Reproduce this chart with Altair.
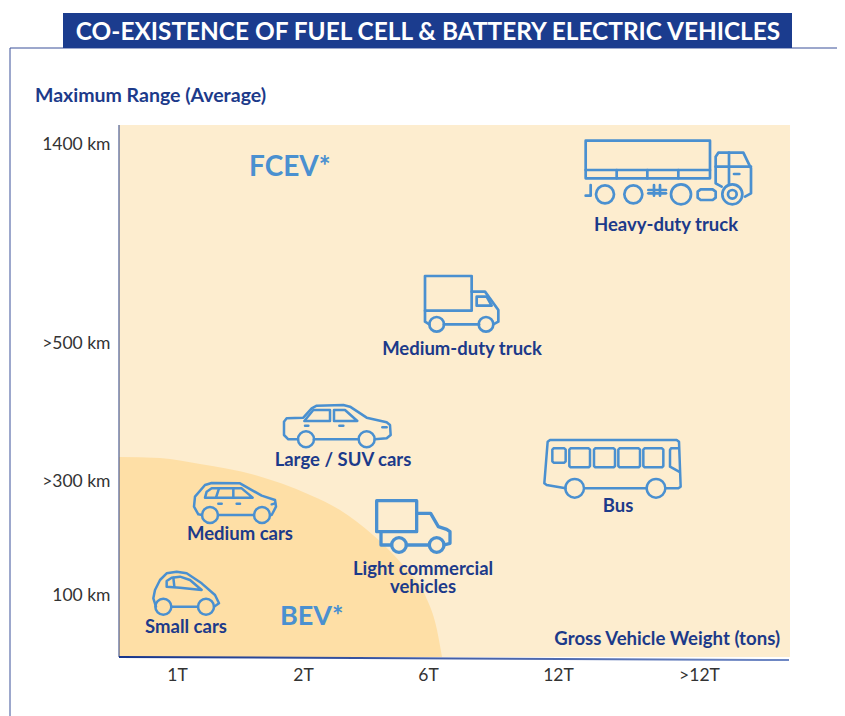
import altair as alt
import pandas as pd

# ---------- text and tick values ----------
TITLE = "CO-EXISTENCE OF FUEL CELL & BATTERY ELECTRIC VEHICLES"
Y_POS = [144, 343, 481, 595]
Y_LABELS = ["1400 km", ">500 km", ">300 km", "100 km"]
X_POS = [177, 303, 428, 558, 699]
X_LABELS = ["1T", "2T", "6T", "12T", ">12T"]

# ---------- regions ----------
BEV_X = [119, 160, 200, 255, 310, 340, 373, 407, 425, 437, 442]
BEV_Y = [457, 458, 464, 475, 495, 510, 535, 570, 595, 630, 657]

# ---------- vehicle labels ----------
LABEL_TEXT = ["Heavy-duty truck", "Medium-duty truck", "Large / SUV cars", "Medium cars",
              "Small cars", "Bus", "Light commercial\nvehicles"]
LABEL_X = [666, 462, 343, 240, 186, 618, 423]
LABEL_Y = [225, 349, 460, 534, 627, 506, 569]

# ---------- vehicle outlines: origin, strokes, wheels (x, y, radius in 1/3 px) ----------
HEAVY = dict(o=(570, 125), w=2.7, lines=[
    [(47, 47), (420, 47), (420, 160), (47, 160), (47, 47)],
    [(47, 135), (420, 135)],
    [(140, 135), (140, 160)], [(232, 135), (232, 160)], [(325, 135), (325, 160)],
    [(455, 185), (437, 175), (437, 95), (445, 83), (520, 83), (543, 130), (543, 205), (525, 215)],
    [(477, 83), (477, 180)], [(437, 125), (543, 125)], [(492, 147), (508, 147)],
    [(62, 180), (62, 212), (47, 212)],
    [(235, 195), (288, 195)], [(235, 205), (288, 205)], [(252, 180), (252, 212)], [(270, 180), (270, 212)],
    [(392, 193), (428, 193), (437, 200), (437, 218), (428, 225), (392, 225), (383, 218), (383, 200), (392, 193)],
], wheels=[(105, 208, 27), (190, 208, 27), (333, 208, 30), (487, 208, 30), (487, 208, 13)])

MEDIUM_TRUCK = dict(o=(370, 265), w=2.7, lines=[
    [(165, 33), (305, 33), (305, 137), (165, 137), (165, 33)],
    [(165, 137), (165, 170), (178, 178)],
    [(222, 178), (327, 178)],
    [(370, 178), (385, 170), (385, 135), (345, 80), (305, 80)],
    [(320, 95), (350, 95), (365, 122), (320, 122), (320, 95)],
], wheels=[(200, 178, 22), (348, 178, 22)])

LARGE_CAR = dict(o=(270, 395), w=2.5, lines=[
    [(84, 133), (55, 133), (42, 120), (42, 80), (50, 70), (100, 68), (125, 40), (140, 32), (220, 30),
     (240, 35), (290, 68), (350, 82), (360, 90), (362, 120), (350, 130), (314, 133)],
    [(132, 133), (266, 133)],
    [(103, 78), (130, 45), (180, 45), (180, 78), (103, 78)],
    [(192, 45), (225, 45), (262, 78), (192, 78), (192, 45)],
    [(105, 92), (115, 92)], [(208, 92), (220, 92)], [(337, 97), (350, 97)],
], wheels=[(108, 133, 24), (290, 133, 24)])

BUS = dict(o=(535, 430), w=2.5, lines=[
    [(92, 175), (35, 165), (28, 160), (38, 35), (45, 30), (425, 30), (432, 35), (437, 170), (430, 175), (392, 175)],
    [(148, 175), (335, 175)],
    [(56, 55), (88, 55), (92, 59), (92, 94), (88, 98), (56, 98), (52, 94), (52, 59), (56, 55)],
    [(107, 55), (161, 55), (165, 59), (165, 108), (161, 112), (107, 112), (103, 108), (103, 59), (107, 55)],
    [(181, 55), (236, 55), (240, 59), (240, 108), (236, 112), (181, 112), (177, 108), (177, 59), (181, 55)],
    [(254, 55), (311, 55), (315, 59), (315, 108), (311, 112), (254, 112), (250, 108), (250, 59), (254, 55)],
    [(329, 55), (381, 55), (385, 59), (385, 108), (381, 112), (329, 112), (325, 108), (325, 59), (329, 55)],
    [(430, 55), (408, 55), (405, 60), (405, 110), (432, 125)],
], wheels=[(119, 175, 28), (363, 175, 28)])

LIGHT_TRUCK = dict(o=(340, 490), w=3.3, lines=[
    [(110, 32), (230, 32), (230, 125), (110, 125), (110, 32)],
    [(123, 125), (123, 165), (155, 165)],
    [(199, 165), (268, 165)],
    [(312, 165), (330, 160), (330, 125), (320, 118), (295, 110), (272, 70), (232, 70)],
], wheels=[(177, 165, 22), (290, 165, 22)])

MEDIUM_CAR = dict(o=(130, 475), w=2.5, lines=[
    [(216, 120), (205, 118), (192, 95), (195, 65), (225, 30), (245, 24), (330, 25), (395, 62), (435, 75),
     (438, 95), (425, 120), (420, 120)],
    [(264, 120), (372, 120)],
    [(225, 68), (230, 50), (245, 40), (335, 40), (368, 68), (225, 68)],
    [(258, 68), (267, 40)], [(310, 40), (310, 68)],
    [(265, 86), (275, 86)], [(320, 86), (330, 86)], [(425, 88), (435, 85)],
], wheels=[(240, 120, 24), (396, 120, 24)])

SMALL_CAR = dict(o=(130, 475), w=2.5, lines=[
    [(78, 395), (70, 370), (75, 345), (90, 315), (110, 295), (140, 290), (170, 295), (215, 325), (255, 360),
     (267, 385), (252, 395)],
    [(124, 395), (204, 395)],
    [(110, 335), (110, 318), (125, 308), (150, 305), (180, 315), (215, 345), (150, 338), (110, 335)],
    [(130, 308), (133, 335)],
], wheels=[(100, 395, 24), (228, 395, 24)])

VEHICLES = [HEAVY, MEDIUM_TRUCK, LARGE_CAR, BUS, LIGHT_TRUCK, MEDIUM_CAR, SMALL_CAR]

# ---------- colours ----------
NAVY = "#1B3C8E"
DARK = "#1C3A8A"
ICON = "#4A90D0"
CREAM = "#FDEDCF"
BEV = "#FEDFA6"
GREY = "#333333"
FONT = "Lato"

xs = alt.Scale(domain=[119, 789], zero=False, nice=False)
ys = alt.Scale(domain=[125, 657], zero=False, nice=False, reverse=True)


def js_list(seq):
    return "[" + ",".join(repr(v) for v in seq) + "]"


x_axis = alt.Axis(values=X_POS, labelExpr=f"{js_list(X_LABELS)}[indexof({js_list(X_POS)},datum.value)]",
                  domain=False, ticks=False, grid=False, title=None, labelPadding=9, labelFont=FONT,
                  labelFontSize=17.5, labelColor=GREY, labelFlush=False)
y_axis = alt.Axis(values=Y_POS, labelExpr=f"{js_list(Y_LABELS)}[indexof({js_list(Y_POS)},datum.value)]",
                  domain=False, ticks=False, grid=False, title=None, labelPadding=9, labelFont=FONT,
                  labelFontSize=17.5, labelColor=GREY)


def X(f="x"):
    return alt.X(f"{f}:Q", scale=xs, axis=x_axis)


def Y(f="y"):
    return alt.Y(f"{f}:Q", scale=ys, axis=y_axis)


layers = []

# plot background
layers.append(alt.Chart(pd.DataFrame({"x": [119], "x2": [790], "y": [125], "y2": [657]})).mark_rect(color=CREAM).encode(
    x=X(), x2="x2:Q", y=Y(), y2="y2:Q"))

# BEV region
layers.append(alt.Chart(pd.DataFrame({"x": BEV_X, "y": BEV_Y, "y2": [657] * len(BEV_X)})).mark_area(
    color=BEV, interpolate="monotone").encode(x=X(), y=Y(), y2="y2:Q"))

# frame
layers.append(alt.Chart(pd.DataFrame({"x": [10, 10, 845], "y": [716, 48, 48], "i": [0, 1, 2]})).mark_line(
    color="#3A5199", strokeWidth=1).encode(x=X(), y=Y(), order="i:Q"))

# banner
layers.append(alt.Chart(pd.DataFrame({"x": [63], "x2": [792], "y": [13], "y2": [48]})).mark_rect(color=NAVY).encode(
    x=X(), x2="x2:Q", y=Y(), y2="y2:Q"))

# axes lines
layers.append(alt.Chart(pd.DataFrame({"x": [119, 119], "y": [125, 657], "i": [0, 1]})).mark_line(
    color="#2B3F7E", strokeWidth=1).encode(x=X(), y=Y(), order="i:Q"))
layers.append(alt.Chart(pd.DataFrame({"x": [119, 789], "y": [657, 660], "i": [0, 1]})).mark_line(
    strokeWidth=2,
    stroke=alt.Gradient(gradient="linear", x1=0, y1=0, x2=1, y2=0,
                        stops=[alt.GradientStop(color="#17358C", offset=0),
                               alt.GradientStop(color="#6F88C4", offset=1)])).encode(x=X(), y=Y(), order="i:Q"))

# vehicles
for v in VEHICLES:
    ox, oy = v["o"]
    rows = []
    for g, pts in enumerate(v["lines"]):
        for i, (a, b) in enumerate(pts):
            rows.append({"x": ox + a / 3, "y": oy + b / 3, "g": g, "i": i})
    layers.append(alt.Chart(pd.DataFrame(rows)).mark_line(
        color=ICON, strokeWidth=v["w"], strokeJoin="round", strokeCap="round").encode(
        x=X(), y=Y(), detail="g:N", order="i:Q"))
    wheels = pd.DataFrame([{"x": ox + a / 3, "y": oy + b / 3, "d": (2 * r / 3) ** 2} for a, b, r in v["wheels"]])
    layers.append(alt.Chart(wheels).mark_point(
        shape="circle", filled=False, color=ICON, opacity=1, strokeWidth=v["w"]).encode(
        x=X(), y=Y(), size=alt.Size("d:Q", scale=None, legend=None)))

# labels
label_data = pd.DataFrame({"x": LABEL_X, "y": LABEL_Y, "t": LABEL_TEXT})
layers.append(alt.Chart(label_data).mark_text(
    color=DARK, font=FONT, fontWeight="bold", fontSize=18.5, align="center", baseline="middle",
    lineBreak="\n", lineHeight=18).encode(x=X(), y=Y(), text="t:N"))


def text(t, x, y, size, color, align="left", weight="bold"):
    return alt.Chart(pd.DataFrame({"x": [x], "y": [y], "t": [t]})).mark_text(
        color=color, font=FONT, fontWeight=weight, fontSize=size, align=align, baseline="middle").encode(
        x=X(), y=Y(), text="t:N")


layers.append(text(TITLE, 428, 33, 24.4, "white", "center"))
layers.append(text("Maximum Range (Average)", 35, 96, 19.5, DARK))
layers.append(text("FCEV*", 249, 168, 28, ICON))
layers.append(text("BEV*", 280, 617, 27, ICON))
layers.append(text("Gross Vehicle Weight (tons)", 780, 639, 18.6, DARK, "right"))

chart = alt.layer(*layers).properties(
    width=670, height=532,
    autosize=alt.AutoSizeParams(type="none"),
    padding={"left": 111, "top": 117, "right": 48, "bottom": 59},
    background="white",
).configure_view(stroke=None)

chart.save("out.html", embed_options={"renderer": "svg", "actions": False})
